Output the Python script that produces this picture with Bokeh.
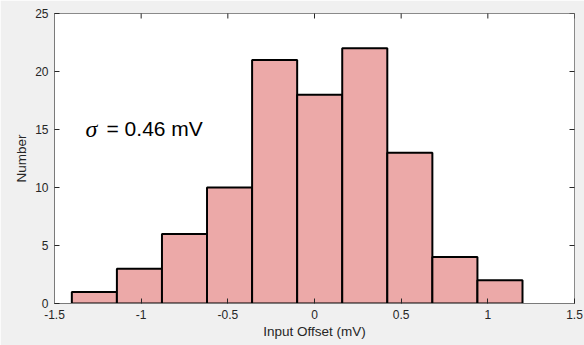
import math
from bokeh.plotting import figure
from bokeh.models import Range1d, FixedTicker, Label, ColumnDataSource
from bokeh.embed import file_html
from bokeh.resources import INLINE

# ---- data ----
bin_left = [-1.4, -1.14, -0.88, -0.62, -0.36, -0.10, 0.16, 0.42, 0.68, 0.94]
bin_right = [-1.14, -0.88, -0.62, -0.36, -0.10, 0.16, 0.42, 0.68, 0.94, 1.20]
counts = [1, 3, 6, 10, 21, 18, 22, 13, 4, 2]

x_ticks = [-1.5, -1.0, -0.5, 0.0, 0.5, 1.0, 1.5]
x_tick_labels = ["-1.5", "-1", "-0.5", "0", "0.5", "1", "1.5"]
y_ticks = [0, 5, 10, 15, 20, 25]
y_tick_labels = ["0", "5", "10", "15", "20", "25"]

x_lim = (-1.5, 1.5)
y_lim = (0, 25)

sigma_text = "σ"
value_text = "= 0.46 mV"

FONT = "Liberation Sans"
TXT = "#262626"

p = figure(width=584, height=345, output_backend="svg", toolbar_location=None,
           x_range=Range1d(*x_lim), y_range=Range1d(*y_lim),
           min_border_left=54, min_border_right=10, min_border_top=13, min_border_bottom=42,
           background_fill_color="white", border_fill_color="#f0f0f0",
           outline_line_color="#8a8a8a", outline_line_width=1)
p.grid.visible = False

src = ColumnDataSource(dict(left=bin_left, right=bin_right, top=counts, bottom=[0] * len(counts)))
p.quad(left="left", right="right", top="top", bottom="bottom", source=src,
       fill_color="#eca9a8", line_color="black", line_width=2)

# mirrored tick marks on top and right edges (half clipped by the frame)
p.scatter(x=x_ticks, y=[y_lim[1]] * len(x_ticks), marker="dash", angle=math.pi / 2,
          size=10, line_color=TXT, line_width=1)
p.scatter(x=[x_lim[1]] * len(y_ticks), y=y_ticks, marker="dash",
          size=10, line_color=TXT, line_width=1)

def style(ax):
    ax.axis_line_color = "#7a7a7a"
    ax.axis_line_width = 1
    ax.major_tick_line_color = TXT
    ax.major_tick_in = 5
    ax.major_tick_out = 0
    ax.minor_tick_in = 0
    ax.minor_tick_out = 0
    ax.major_label_text_font = FONT
    ax.major_label_text_font_size = "12px"
    ax.major_label_text_color = TXT
    ax.axis_label_text_font = FONT
    ax.axis_label_text_font_size = "13.5px"
    ax.axis_label_text_font_style = "normal"
    ax.axis_label_text_color = TXT

xa = p.xaxis[0]
xa.ticker = FixedTicker(ticks=x_ticks)
xa.major_label_overrides = {t: l for t, l in zip(x_ticks, x_tick_labels)}
xa.axis_label = "Input Offset (mV)"
style(xa)
xa.major_label_standoff = 6
xa.axis_label_standoff = 2

ya = p.yaxis[0]
ya.ticker = FixedTicker(ticks=y_ticks)
ya.major_label_overrides = {t: l for t, l in zip(y_ticks, y_tick_labels)}
ya.axis_label = "Number"
style(ya)
ya.major_label_standoff = 6
ya.axis_label_standoff = 3

p.add_layout(Label(x=-1.321, y=15.05, text=sigma_text, text_font="Liberation Serif",
                   text_font_style="italic", text_font_size="24px", text_color="black",
                   text_baseline="alphabetic"))
p.add_layout(Label(x=-1.321, y=15.05, x_offset=21, text=value_text, text_font=FONT,
                   text_font_size="21px", text_color="black", text_baseline="alphabetic"))

open("out.html", "w").write(file_html(p, INLINE))
